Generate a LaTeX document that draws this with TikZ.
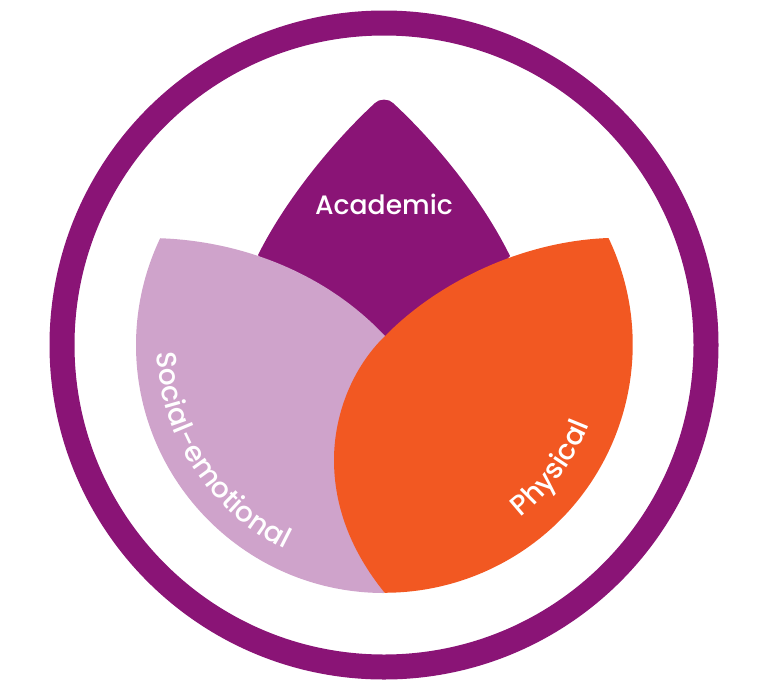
\documentclass[tikz,border=0pt]{standalone}
\usepackage{fontspec}
\setmainfont{Poppins Medium}
\usetikzlibrary{decorations.text}
\definecolor{ringpurple}{HTML}{8A1476}
\definecolor{lilac}{HTML}{CFA3CB}
\definecolor{petalorange}{HTML}{F25822}
\tikzset{
  curvedlabel/.style={decorate,decoration={text along path,text align=center,
    text={|\fontsize{28}{30}\selectfont\color{white}|#1}}}
}
\begin{document}
\begin{tikzpicture}[x=1pt,y=-1pt]
\useasboundingbox (0,0) rectangle (768,691);
\coordinate (c) at (384,345);
\draw[ringpurple,line width=25pt] (c) circle[radius=322pt];
% Academic petal
\fill[ringpurple] (258,255) .. controls (288,195) and (338,137) .. (375,103)
  .. controls (379,98.5) and (389,98.5) .. (393,103)
  .. controls (430,137) and (480,195) .. (510,256) -- (384,400) -- cycle;
% Social-emotional petal
\fill[lilac] (384,593) arc[start angle=270,end angle=154.5,radius=248pt]
  .. controls (240,241) and (325,272) .. (385,336) -- cycle;
% Physical petal
\fill[petalorange] (608.5,238) arc[start angle=25.5,end angle=-90,radius=248pt]
  .. controls (350,550) and (334,505) .. (334,460)
  .. controls (334,415) and (352,368) .. (385,336)
  .. controls (440,280) and (525,241) .. (608.5,238) -- cycle;
\node[text=white,font=\fontsize{26.6}{30}\selectfont] (academic) at (384,204) {Academic};
\path[curvedlabel={Social-emotional}] (c) ++(178:227pt) arc[start angle=178,end angle=248,radius=227pt];
\path[curvedlabel={Physical}] (c) ++(-55:220pt) arc[start angle=-55,end angle=-18,radius=220pt];
\end{tikzpicture}
\end{document}
